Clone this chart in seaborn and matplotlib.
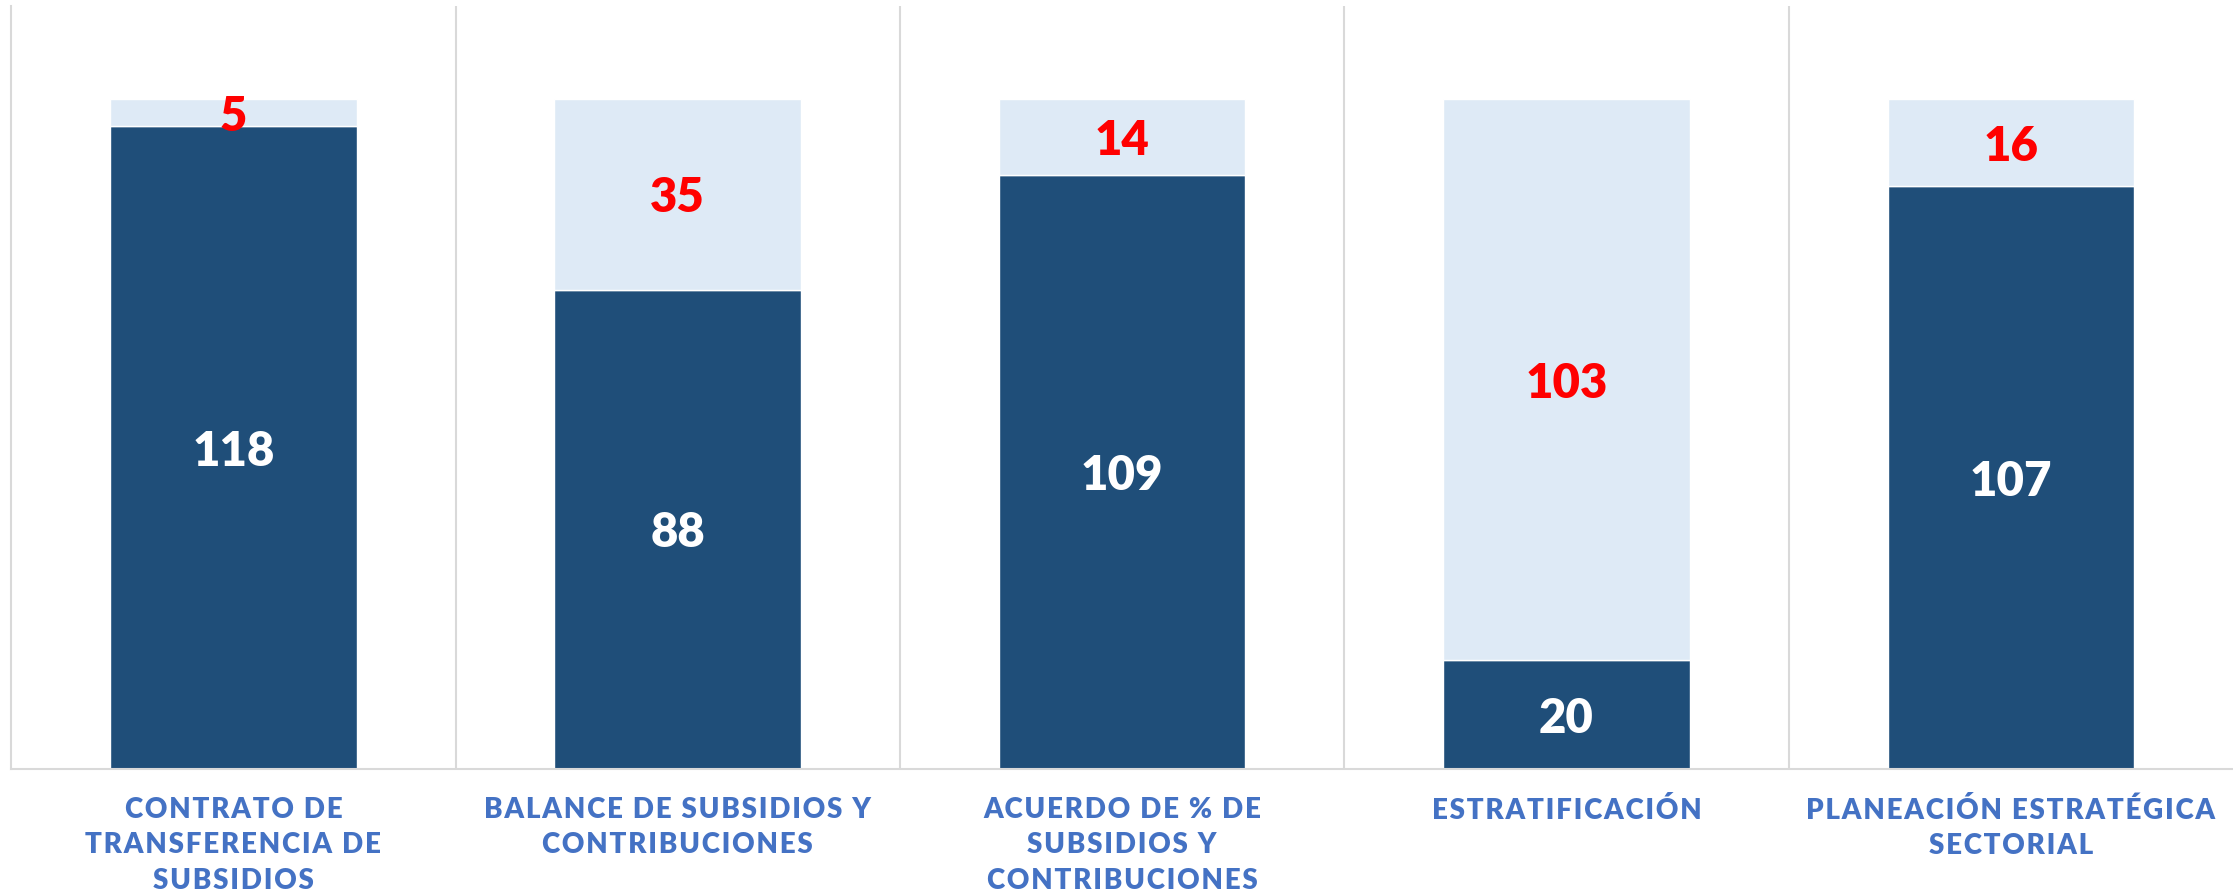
import pandas as pd
import matplotlib
matplotlib.use("Agg")
import matplotlib.pyplot as plt
import seaborn as sns

categorias = [
    "CONTRATO DE\nTRANSFERENCIA DE\nSUBSIDIOS",
    "BALANCE DE SUBSIDIOS Y\nCONTRIBUCIONES",
    "ACUERDO DE % DE\nSUBSIDIOS Y\nCONTRIBUCIONES",
    "ESTRATIFICACIÓN",
    "PLANEACIÓN ESTRATÉGICA\nSECTORIAL",
]
cumple = [118, 88, 109, 20, 107]
no_cumple = [5, 35, 14, 103, 16]

sns.set_theme(style="white")
plt.rcParams['font.family'] = ['Lato', 'DejaVu Sans']


def espaciar(txt):
    # imitar el espaciado entre letras con espacios finos
    return '\n'.join('\u200a'.join(linea) for linea in txt.split('\n'))


df = pd.DataFrame({'categoria': categorias, 'cumple': cumple, 'no_cumple': no_cumple})

fig = plt.figure(figsize=(22.33, 8.92), dpi=100)
ax = fig.add_axes([0.005, 0.138, 0.995, 0.855])

sns.barplot(data=df, x='categoria', y='cumple', color='#1F4E79', width=0.555,
            saturation=1, ax=ax)
sns.barplot(data=df, x='categoria', y='no_cumple', bottom=df['cumple'], color='#DEEAF6',
            width=0.555, saturation=1, ax=ax)

for i, (c, n) in enumerate(zip(cumple, no_cumple)):
    ax.annotate(str(c), (i, c / 2), xytext=(0, -3), textcoords='offset points',
                ha='center', va='center', color='white', fontsize=34, fontweight='heavy')
    ax.annotate(str(n), (i, c + n / 2), xytext=(0, -3), textcoords='offset points',
                ha='center', va='center', color='#FF0000', fontsize=34, fontweight='heavy')

ax.set_xlim(-0.5, 4.5)
ax.set_ylim(0, 140)
for x in [0.5, 1.5, 2.5, 3.5]:
    ax.axvline(x, color='#D9D9D9', lw=1.5)

ax.set_xlabel('')
ax.set_ylabel('')
ax.set_yticks([])
ax.tick_params(axis='x', length=0, pad=20)
ax.set_xticks(range(len(categorias)))
ax.set_xticklabels([espaciar(t) for t in categorias], color='#4472C4', fontsize=20,
                   fontweight='heavy', linespacing=1.45)
for s in ['top', 'right']:
    ax.spines[s].set_visible(False)
for s in ['left', 'bottom']:
    ax.spines[s].set_color('#D9D9D9')
    ax.spines[s].set_linewidth(1.5)

fig.savefig('out.png', dpi=100)
